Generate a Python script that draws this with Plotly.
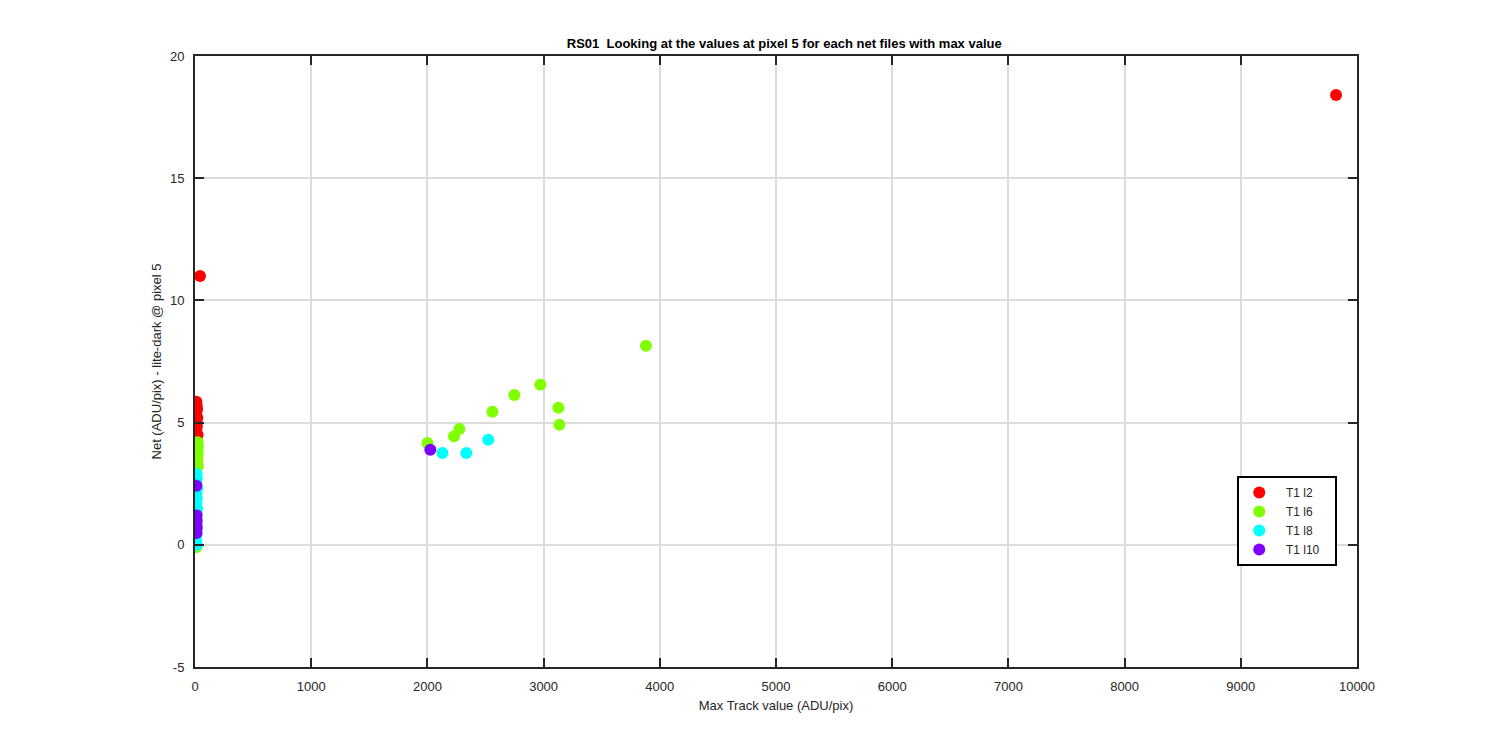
import plotly.graph_objects as go

# ---- data ----
red_x = [9820, 43, 12, 15, 18, 10, 20, 14, 16, 11, 22, 13, 17, 19]
red_y = [18.4, 11.0, 5.85, 5.7, 5.55, 5.4, 5.2, 5.0, 4.85, 4.7, 4.5, 4.3, 3.6, 3.3]

green_x = [3881, 2972, 2748, 2559, 3127, 3136, 2275, 2229, 2000,
           22, 25, 20, 24, 18, 21, 23, 15, 12, 10]
green_y = [8.14, 6.55, 6.13, 5.44, 5.61, 4.91, 4.74, 4.44, 4.17,
           4.2, 4.05, 3.9, 3.75, 3.6, 3.4, 3.2, 1.0, -0.05, -0.1]

cyan_x = [2524, 2129, 2335, 14, 16, 12, 18, 13, 15, 11, 17, 14, 12, 16, 13, 10, 15]
cyan_y = [4.30, 3.76, 3.76, 2.9, 2.7, 2.5, 2.3, 2.1, 1.9, 1.7, 1.5, 1.3, 1.0, 0.7, 0.4, 0.15, 0.0]

purple_x = [2025, 12, 14, 11, 13, 12, 14, 11, 13]
purple_y = [3.89, 2.42, 1.2, 1.05, 0.95, 0.85, 0.72, 0.6, 0.48]

series_names = ["T1 l2", "T1 l6", "T1 l8", "T1 l10"]
series_colors = ["#ff0000", "#80ff00", "#00ffff", "#8000ff"]

x_ticks = [0, 1000, 2000, 3000, 4000, 5000, 6000, 7000, 8000, 9000, 10000]
x_tick_labels = ["0", "1000", "2000", "3000", "4000", "5000", "6000", "7000", "8000", "9000", "10000"]
y_ticks = [-5, 0, 5, 10, 15, 20]
y_tick_labels = ["-5", "0", "5", "10", "15", "20"]

title_text = "RS01  Looking at the values at pixel 5 for each net files with max value"
x_title = "Max Track value (ADU/pix)"
y_title = "Net (ADU/pix) - lite-dark @ pixel 5"

FONT = "Liberation Sans, Arial, Helvetica, sans-serif"
AX = "#262626"
PRE = "\u00a0\u00a0"
POST = "\u00a0\u00a0\u00a0"

fig = go.Figure()
for xs, ys, name, col in zip([red_x, green_x, cyan_x, purple_x],
                             [red_y, green_y, cyan_y, purple_y],
                             series_names, series_colors):
    fig.add_trace(go.Scatter(
        x=xs, y=ys, mode="markers", name=PRE + name + POST,
        marker=dict(color=col, size=12, line=dict(width=0)),
    ))

axis_common = dict(
    showline=True, linecolor=AX, linewidth=2, mirror="ticks",
    ticks="inside", ticklen=9, tickwidth=2, tickcolor=AX,
    showgrid=True, gridcolor="#dcdcdc", gridwidth=2,
    zeroline=False, ticklabelstandoff=6,
    tickfont=dict(family=FONT, size=13, color=AX),
)

fig.update_xaxes(range=[0, 10000], tickvals=x_ticks, ticktext=x_tick_labels,
                 title=dict(text=x_title, font=dict(family=FONT, size=13, color=AX), standoff=8),
                 **axis_common)
fig.update_yaxes(range=[-5, 20], tickvals=y_ticks, ticktext=y_tick_labels,
                 title=dict(text=y_title, font=dict(family=FONT, size=13, color=AX), standoff=5),
                 **axis_common)

fig.update_layout(
    width=1500, height=750,
    margin=dict(l=187, r=151, t=48, b=91),
    paper_bgcolor="white", plot_bgcolor="white",
    title=dict(text="<b>" + title_text + "</b>", x=0.5175, xanchor="center",
               y=0.953, yanchor="middle",
               font=dict(family=FONT, size=13, color="#000000")),
    legend=dict(x=0.983, xanchor="right", y=0.3126, yanchor="top",
                bordercolor="#000000", borderwidth=2, bgcolor="white",
                font=dict(family=FONT, size=12, color=AX),
                itemsizing="constant", tracegroupgap=0),
    showlegend=True,
)

fig.write_html("out.html")
